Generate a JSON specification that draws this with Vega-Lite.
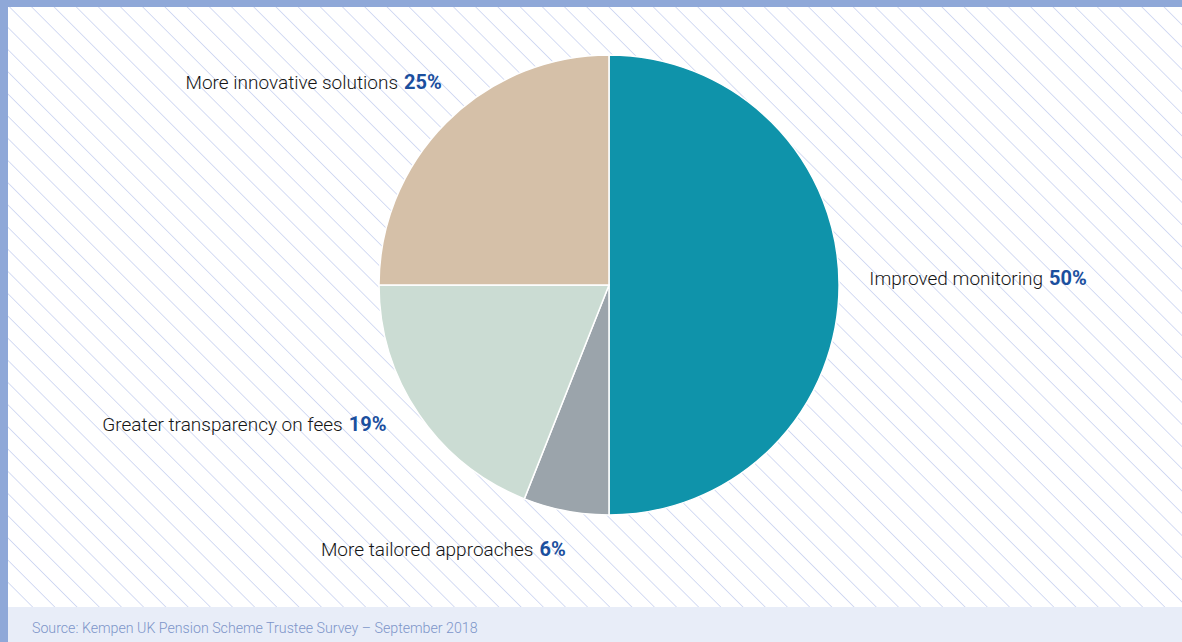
{
 "$schema": "https://vega.github.io/schema/vega-lite/v6.json",
 "background": "#8fa8d8",
 "padding": {"left": 8, "top": 7, "right": 0, "bottom": 0},
 "spacing": 0,
 "config": {"view": {"stroke": null}},
 "vconcat": [
  {
   "width": 1174,
   "height": 600,
   "view": {"stroke": null, "fill": {"gradient": "linear", "x1": 0, "y1": 1, "x2": 1.198, "y2": 0.3876, "stops": [
{"offset":0,"color":"#fff"},
{"offset":0.0132,"color":"#fff"},{"offset":0.0139,"color":"#d0d8f2"},{"offset":0.0146,"color":"#fff"},
{"offset":0.0257,"color":"#fff"},{"offset":0.0264,"color":"#d0d8f2"},{"offset":0.0271,"color":"#fff"},
{"offset":0.0382,"color":"#fff"},{"offset":0.0389,"color":"#d0d8f2"},{"offset":0.0396,"color":"#fff"},
{"offset":0.0507,"color":"#fff"},{"offset":0.0514,"color":"#d0d8f2"},{"offset":0.0521,"color":"#fff"},
{"offset":0.0632,"color":"#fff"},{"offset":0.0639,"color":"#d0d8f2"},{"offset":0.0646,"color":"#fff"},
{"offset":0.0757,"color":"#fff"},{"offset":0.0764,"color":"#d0d8f2"},{"offset":0.0771,"color":"#fff"},
{"offset":0.0883,"color":"#fff"},{"offset":0.0890,"color":"#d0d8f2"},{"offset":0.0897,"color":"#fff"},
{"offset":0.1008,"color":"#fff"},{"offset":0.1015,"color":"#d0d8f2"},{"offset":0.1022,"color":"#fff"},
{"offset":0.1133,"color":"#fff"},{"offset":0.1140,"color":"#d0d8f2"},{"offset":0.1147,"color":"#fff"},
{"offset":0.1258,"color":"#fff"},{"offset":0.1265,"color":"#d0d8f2"},{"offset":0.1272,"color":"#fff"},
{"offset":0.1383,"color":"#fff"},{"offset":0.1390,"color":"#d0d8f2"},{"offset":0.1397,"color":"#fff"},
{"offset":0.1508,"color":"#fff"},{"offset":0.1515,"color":"#d0d8f2"},{"offset":0.1522,"color":"#fff"},
{"offset":0.1633,"color":"#fff"},{"offset":0.1640,"color":"#d0d8f2"},{"offset":0.1647,"color":"#fff"},
{"offset":0.1759,"color":"#fff"},{"offset":0.1766,"color":"#d0d8f2"},{"offset":0.1773,"color":"#fff"},
{"offset":0.1884,"color":"#fff"},{"offset":0.1891,"color":"#d0d8f2"},{"offset":0.1898,"color":"#fff"},
{"offset":0.2009,"color":"#fff"},{"offset":0.2016,"color":"#d0d8f2"},{"offset":0.2023,"color":"#fff"},
{"offset":0.2134,"color":"#fff"},{"offset":0.2141,"color":"#d0d8f2"},{"offset":0.2148,"color":"#fff"},
{"offset":0.2259,"color":"#fff"},{"offset":0.2266,"color":"#d0d8f2"},{"offset":0.2273,"color":"#fff"},
{"offset":0.2384,"color":"#fff"},{"offset":0.2391,"color":"#d0d8f2"},{"offset":0.2398,"color":"#fff"},
{"offset":0.2509,"color":"#fff"},{"offset":0.2516,"color":"#d0d8f2"},{"offset":0.2523,"color":"#fff"},
{"offset":0.2634,"color":"#fff"},{"offset":0.2641,"color":"#d0d8f2"},{"offset":0.2648,"color":"#fff"},
{"offset":0.2760,"color":"#fff"},{"offset":0.2767,"color":"#d0d8f2"},{"offset":0.2774,"color":"#fff"},
{"offset":0.2885,"color":"#fff"},{"offset":0.2892,"color":"#d0d8f2"},{"offset":0.2899,"color":"#fff"},
{"offset":0.3010,"color":"#fff"},{"offset":0.3017,"color":"#d0d8f2"},{"offset":0.3024,"color":"#fff"},
{"offset":0.3135,"color":"#fff"},{"offset":0.3142,"color":"#d0d8f2"},{"offset":0.3149,"color":"#fff"},
{"offset":0.3260,"color":"#fff"},{"offset":0.3267,"color":"#d0d8f2"},{"offset":0.3274,"color":"#fff"},
{"offset":0.3385,"color":"#fff"},{"offset":0.3392,"color":"#d0d8f2"},{"offset":0.3399,"color":"#fff"},
{"offset":0.3510,"color":"#fff"},{"offset":0.3517,"color":"#d0d8f2"},{"offset":0.3524,"color":"#fff"},
{"offset":0.3636,"color":"#fff"},{"offset":0.3643,"color":"#d0d8f2"},{"offset":0.3650,"color":"#fff"},
{"offset":0.3761,"color":"#fff"},{"offset":0.3768,"color":"#d0d8f2"},{"offset":0.3775,"color":"#fff"},
{"offset":0.3886,"color":"#fff"},{"offset":0.3893,"color":"#d0d8f2"},{"offset":0.3900,"color":"#fff"},
{"offset":0.4011,"color":"#fff"},{"offset":0.4018,"color":"#d0d8f2"},{"offset":0.4025,"color":"#fff"},
{"offset":0.4136,"color":"#fff"},{"offset":0.4143,"color":"#d0d8f2"},{"offset":0.4150,"color":"#fff"},
{"offset":0.4261,"color":"#fff"},{"offset":0.4268,"color":"#d0d8f2"},{"offset":0.4275,"color":"#fff"},
{"offset":0.4386,"color":"#fff"},{"offset":0.4393,"color":"#d0d8f2"},{"offset":0.4400,"color":"#fff"},
{"offset":0.4512,"color":"#fff"},{"offset":0.4519,"color":"#d0d8f2"},{"offset":0.4526,"color":"#fff"},
{"offset":0.4637,"color":"#fff"},{"offset":0.4644,"color":"#d0d8f2"},{"offset":0.4651,"color":"#fff"},
{"offset":0.4762,"color":"#fff"},{"offset":0.4769,"color":"#d0d8f2"},{"offset":0.4776,"color":"#fff"},
{"offset":0.4887,"color":"#fff"},{"offset":0.4894,"color":"#d0d8f2"},{"offset":0.4901,"color":"#fff"},
{"offset":0.5012,"color":"#fff"},{"offset":0.5019,"color":"#d0d8f2"},{"offset":0.5026,"color":"#fff"},
{"offset":0.5137,"color":"#fff"},{"offset":0.5144,"color":"#d0d8f2"},{"offset":0.5151,"color":"#fff"},
{"offset":0.5262,"color":"#fff"},{"offset":0.5269,"color":"#d0d8f2"},{"offset":0.5276,"color":"#fff"},
{"offset":0.5388,"color":"#fff"},{"offset":0.5395,"color":"#d0d8f2"},{"offset":0.5402,"color":"#fff"},
{"offset":0.5513,"color":"#fff"},{"offset":0.5520,"color":"#d0d8f2"},{"offset":0.5527,"color":"#fff"},
{"offset":0.5638,"color":"#fff"},{"offset":0.5645,"color":"#d0d8f2"},{"offset":0.5652,"color":"#fff"},
{"offset":0.5763,"color":"#fff"},{"offset":0.5770,"color":"#d0d8f2"},{"offset":0.5777,"color":"#fff"},
{"offset":0.5888,"color":"#fff"},{"offset":0.5895,"color":"#d0d8f2"},{"offset":0.5902,"color":"#fff"},
{"offset":0.6013,"color":"#fff"},{"offset":0.6020,"color":"#d0d8f2"},{"offset":0.6027,"color":"#fff"},
{"offset":0.6138,"color":"#fff"},{"offset":0.6145,"color":"#d0d8f2"},{"offset":0.6152,"color":"#fff"},
{"offset":0.6264,"color":"#fff"},{"offset":0.6271,"color":"#d0d8f2"},{"offset":0.6278,"color":"#fff"},
{"offset":0.6389,"color":"#fff"},{"offset":0.6396,"color":"#d0d8f2"},{"offset":0.6403,"color":"#fff"},
{"offset":0.6514,"color":"#fff"},{"offset":0.6521,"color":"#d0d8f2"},{"offset":0.6528,"color":"#fff"},
{"offset":0.6639,"color":"#fff"},{"offset":0.6646,"color":"#d0d8f2"},{"offset":0.6653,"color":"#fff"},
{"offset":0.6764,"color":"#fff"},{"offset":0.6771,"color":"#d0d8f2"},{"offset":0.6778,"color":"#fff"},
{"offset":0.6889,"color":"#fff"},{"offset":0.6896,"color":"#d0d8f2"},{"offset":0.6903,"color":"#fff"},
{"offset":0.7014,"color":"#fff"},{"offset":0.7021,"color":"#d0d8f2"},{"offset":0.7028,"color":"#fff"},
{"offset":0.7140,"color":"#fff"},{"offset":0.7147,"color":"#d0d8f2"},{"offset":0.7154,"color":"#fff"},
{"offset":0.7265,"color":"#fff"},{"offset":0.7272,"color":"#d0d8f2"},{"offset":0.7279,"color":"#fff"},
{"offset":0.7390,"color":"#fff"},{"offset":0.7397,"color":"#d0d8f2"},{"offset":0.7404,"color":"#fff"},
{"offset":0.7515,"color":"#fff"},{"offset":0.7522,"color":"#d0d8f2"},{"offset":0.7529,"color":"#fff"},
{"offset":0.7640,"color":"#fff"},{"offset":0.7647,"color":"#d0d8f2"},{"offset":0.7654,"color":"#fff"},
{"offset":0.7765,"color":"#fff"},{"offset":0.7772,"color":"#d0d8f2"},{"offset":0.7779,"color":"#fff"},
{"offset":0.7890,"color":"#fff"},{"offset":0.7897,"color":"#d0d8f2"},{"offset":0.7904,"color":"#fff"},
{"offset":0.8016,"color":"#fff"},{"offset":0.8023,"color":"#d0d8f2"},{"offset":0.8030,"color":"#fff"},
{"offset":0.8141,"color":"#fff"},{"offset":0.8148,"color":"#d0d8f2"},{"offset":0.8155,"color":"#fff"},
{"offset":0.8266,"color":"#fff"},{"offset":0.8273,"color":"#d0d8f2"},{"offset":0.8280,"color":"#fff"},
{"offset":0.8391,"color":"#fff"},{"offset":0.8398,"color":"#d0d8f2"},{"offset":0.8405,"color":"#fff"},
{"offset":0.8516,"color":"#fff"},{"offset":0.8523,"color":"#d0d8f2"},{"offset":0.8530,"color":"#fff"},
{"offset":0.8641,"color":"#fff"},{"offset":0.8648,"color":"#d0d8f2"},{"offset":0.8655,"color":"#fff"},
{"offset":0.8766,"color":"#fff"},{"offset":0.8773,"color":"#d0d8f2"},{"offset":0.8780,"color":"#fff"},
{"offset":0.8892,"color":"#fff"},{"offset":0.8899,"color":"#d0d8f2"},{"offset":0.8906,"color":"#fff"},
{"offset":0.9017,"color":"#fff"},{"offset":0.9024,"color":"#d0d8f2"},{"offset":0.9031,"color":"#fff"},
{"offset":0.9142,"color":"#fff"},{"offset":0.9149,"color":"#d0d8f2"},{"offset":0.9156,"color":"#fff"},
{"offset":0.9267,"color":"#fff"},{"offset":0.9274,"color":"#d0d8f2"},{"offset":0.9281,"color":"#fff"},
{"offset":0.9392,"color":"#fff"},{"offset":0.9399,"color":"#d0d8f2"},{"offset":0.9406,"color":"#fff"},
{"offset":0.9517,"color":"#fff"},{"offset":0.9524,"color":"#d0d8f2"},{"offset":0.9531,"color":"#fff"},
{"offset":0.9642,"color":"#fff"},{"offset":0.9649,"color":"#d0d8f2"},{"offset":0.9656,"color":"#fff"},
{"offset":0.9768,"color":"#fff"},{"offset":0.9775,"color":"#d0d8f2"},{"offset":0.9782,"color":"#fff"},
{"offset":0.9893,"color":"#fff"},{"offset":0.9900,"color":"#d0d8f2"},{"offset":0.9907,"color":"#fff"},
{"offset":1,"color":"#fff"}
   ]}},
   "data": {"values": [
     {"category": "Improved monitoring", "share": 0.50, "order": 1},
     {"category": "More tailored approaches", "share": 0.06, "order": 2},
     {"category": "Greater transparency on fees", "share": 0.19, "order": 3},
     {"category": "More innovative solutions", "share": 0.25, "order": 4}
   ]},
   "encoding": {
     "theta": {"field": "share", "type": "quantitative", "stack": true},
     "order": {"field": "order", "type": "quantitative"}
   },
   "layer": [
     {
       "mark": {"type": "arc", "radius": 230, "stroke": "#ffffff", "strokeWidth": 1.5, "xOffset": 14, "yOffset": -22},
       "encoding": {
         "color": {"field": "category", "type": "nominal", "legend": null,
           "scale": {"domain": ["Improved monitoring", "More tailored approaches", "Greater transparency on fees", "More innovative solutions"],
                     "range": ["#0f93aa", "#9ba4ab", "#cbdcd3", "#d5c0a8"]}}
       }
     },
     {
       "mark": {"type": "text", "radius": 270, "xOffset": 14, "yOffset": -22, "align": "right", "baseline": "alphabetic",
         "font": "Roboto", "fontWeight": 300, "fontSize": 19, "color": "#151515",
         "dx": {"expr": "datum.category === 'Improved monitoring' ? 164 : datum.category === 'More tailored approaches' ? -25 : datum.category === 'Greater transparency on fees' ? -43 : -20"},
         "dy": {"expr": "datum.category === 'Improved monitoring' ? 0 : datum.category === 'More tailored approaches' ? 6 : datum.category === 'Greater transparency on fees' ? -6 : -5"}},
       "encoding": {"text": {"field": "category", "type": "nominal"}}
     },
     {
       "mark": {"type": "text", "radius": 270, "xOffset": 14, "yOffset": -22, "align": "left", "baseline": "alphabetic",
         "font": "Roboto", "fontWeight": "bold", "fontSize": 20, "color": "#1b4f9e",
         "dx": {"expr": "datum.category === 'Improved monitoring' ? 170 : datum.category === 'More tailored approaches' ? -19 : datum.category === 'Greater transparency on fees' ? -37 : -14"},
         "dy": {"expr": "datum.category === 'Improved monitoring' ? 0 : datum.category === 'More tailored approaches' ? 6 : datum.category === 'Greater transparency on fees' ? -6 : -5"}},
       "encoding": {"text": {"field": "share", "type": "quantitative", "format": ".0%"}}
     }
   ]
  },
  {
   "width": 1174,
   "height": 35,
   "view": {"fill": "#e8edf8", "stroke": null},
   "data": {"values": [{"source": "Source: Kempen UK Pension Scheme Trustee Survey – September 2018"}]},
   "mark": {"type": "text", "align": "left", "baseline": "middle", "dx": -563, "dy": 4,
     "font": "Roboto", "fontWeight": 300, "fontSize": 14.2, "color": "#7d95c9"},
   "encoding": {"text": {"field": "source", "type": "nominal"}}
  }
 ]
}
